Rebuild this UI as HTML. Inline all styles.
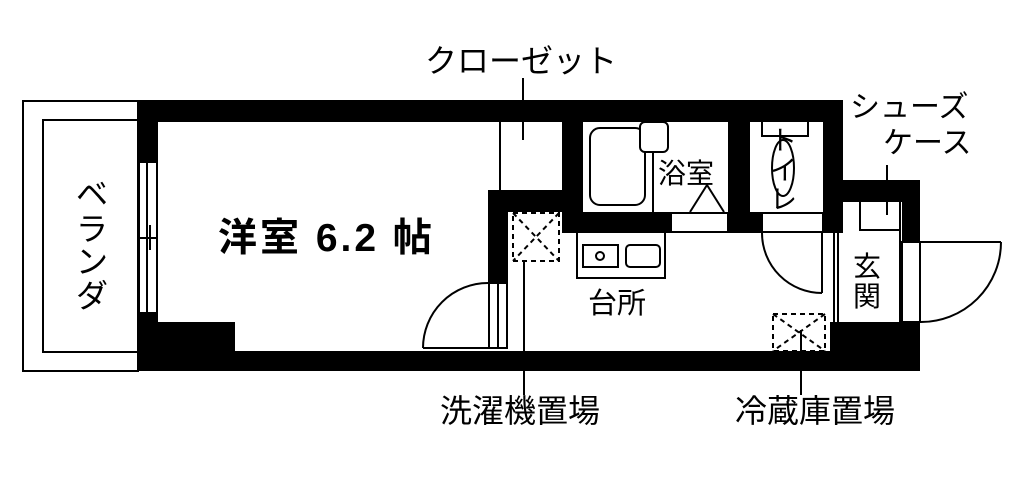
<!DOCTYPE html>
<html><head><meta charset="utf-8"><style>
html,body{margin:0;padding:0;background:#fff;width:1024px;height:486px;overflow:hidden}
svg{display:block}
text{font-family:"Liberation Sans","Noto Sans CJK JP",sans-serif;fill:#000}
</style></head><body>
<svg width="1024" height="486" viewBox="0 0 1024 486" xmlns="http://www.w3.org/2000/svg">
<g fill="none" stroke="#000" stroke-width="2">
<rect x="23" y="101" width="115" height="270"/>
<rect x="43" y="120" width="95" height="232"/>
</g>
<g fill="#000">
<rect x="138" y="100" width="705" height="22"/>
<rect x="138" y="100" width="20" height="62"/>
<rect x="138" y="313" width="20" height="58"/>
<rect x="138" y="322" width="97" height="49"/>
<rect x="138" y="351" width="782" height="20"/>
<rect x="488" y="190" width="20" height="93"/>
<rect x="488" y="190" width="74" height="22"/>
<rect x="562" y="100" width="21" height="133"/>
<rect x="562" y="212" width="109" height="21"/>
<rect x="728" y="100" width="22" height="133"/>
<rect x="728" y="212" width="34" height="21"/>
<rect x="823" y="100" width="20" height="133"/>
<rect x="823" y="180" width="97" height="22"/>
<rect x="902" y="180" width="18" height="62"/>
<rect x="830" y="322" width="90" height="49"/>
</g>
<g fill="none" stroke="#000" stroke-width="2">
<rect x="139" y="162" width="18" height="151"/>
<line x1="147" y1="162" x2="147" y2="313"/>
<line x1="150" y1="225" x2="150" y2="250"/>
<line x1="139" y1="238" x2="157" y2="238"/>
<line x1="500" y1="122" x2="500" y2="190"/>
<line x1="523" y1="78" x2="523" y2="140"/>
<path d="M423 348 A65 65 0 0 1 488 283"/>
<line x1="423" y1="348" x2="488" y2="348"/>
<rect x="489" y="283" width="18" height="65"/>
<line x1="498" y1="283" x2="498" y2="348"/>
<rect x="513" y="213" width="46" height="48" stroke-dasharray="5 4"/>
<path d="M513 213 L559 261 M559 213 L513 261" stroke-dasharray="5 4"/>
<line x1="524" y1="261" x2="524" y2="395"/>
<rect x="590" y="128" width="55" height="77" rx="10"/>
<rect x="640" y="122" width="28" height="30" rx="5" fill="#fff"/>
<line x1="653" y1="152" x2="653" y2="212"/>
<path d="M690 212 L707 185 L724 212"/>
<rect x="671" y="213" width="57" height="19"/>
<path d="M762 122 L762 136 L808 136 L808 122"/>
<ellipse cx="783" cy="168" rx="11" ry="28"/>
<rect x="762" y="213" width="61" height="19"/>
<path d="M762 233 A60 60 0 0 0 822 293"/>
<line x1="822" y1="233" x2="822" y2="293"/>
<path d="M577 233 L577 278 L665 278 L665 233"/>
<rect x="583" y="245" width="35" height="22"/>
<circle cx="600" cy="256" r="4"/>
<rect x="626" y="245" width="34" height="22" rx="4"/>
<line x1="834" y1="233" x2="834" y2="322"/>
<line x1="838" y1="233" x2="838" y2="322"/>
<path d="M860 202 L860 230 L900 230 L900 202"/>
<line x1="887" y1="165" x2="887" y2="215"/>
<line x1="900" y1="230" x2="900" y2="322"/>
<rect x="902" y="242" width="18" height="80"/>
<line x1="920" y1="242" x2="1001" y2="242"/>
<path d="M1001 242 A80 80 0 0 1 920 322"/>
<rect x="773" y="314" width="52" height="37" stroke-dasharray="5 4"/>
<path d="M773 314 L825 351 M825 314 L773 351" stroke-dasharray="5 4"/>
<line x1="801" y1="330" x2="801" y2="395"/>
</g>
<text x="425" y="72" font-size="32">クローゼット</text>
<text x="218" y="251" font-size="39" font-weight="bold" letter-spacing="3">洋室 6.2 帖</text>
<g font-size="32">
<text x="76" y="205">ベ</text><text x="76" y="240">ラ</text><text x="76" y="273">ン</text><text x="76" y="307">ダ</text>
</g>
<text x="658" y="183" font-size="28">浴室</text>
<g font-size="27"><text x="770" y="150">ト</text><text x="770" y="180">イ</text><text x="770" y="209">レ</text></g>
<text x="588" y="313" font-size="29">台所</text>
<g font-size="28"><text x="853" y="276">玄</text><text x="853" y="306">関</text></g>
<text x="850" y="117" font-size="30">シューズ</text>
<text x="883" y="153" font-size="30">ケース</text>
<text x="440" y="422" font-size="32">洗濯機置場</text>
<text x="735" y="422" font-size="32">冷蔵庫置場</text>
</svg>
</body></html>
